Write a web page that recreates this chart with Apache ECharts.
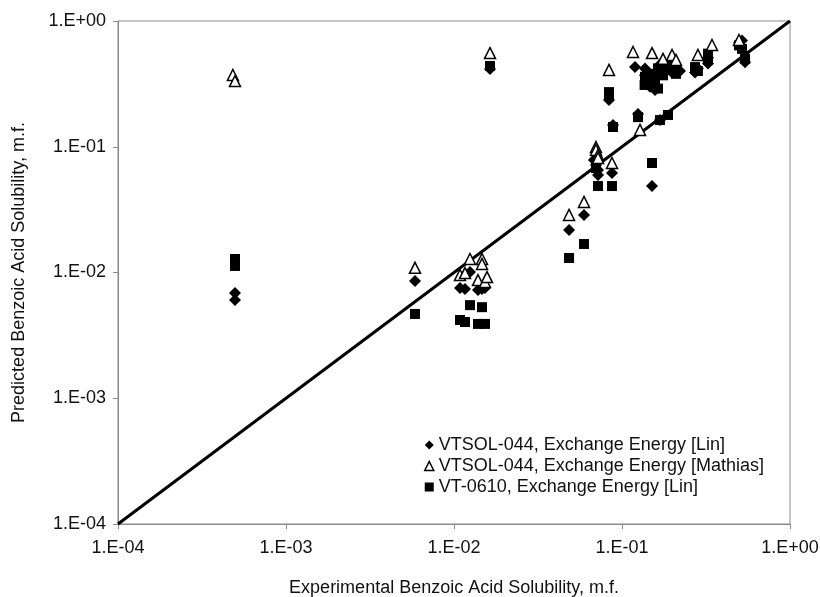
<!DOCTYPE html>
<html>
<head>
<meta charset="utf-8">
<script src="https://cdn.jsdelivr.net/npm/echarts@6/dist/echarts.min.js"></script>
<style>
  html, body { margin: 0; padding: 0; background: #fff; }
  #chart { width: 820px; height: 597px; }
</style>
</head>
<body>
<div id="chart"></div>
<script>
// series names (legend)
var seriesNames = [
  'VTSOL-044, Exchange Energy [Lin]',
  'VTSOL-044, Exchange Energy [Mathias]',
  'VT-0610, Exchange Energy [Lin]'
];

// [experimental, predicted] mole fractions
var linData = [
  [4.97e-4, 0.00687], [4.97e-4, 0.00604], [5.86e-3, 0.00856],
  [0.01086, 0.00753], [0.01163, 0.0074], [0.01245, 0.0101], [0.01389, 0.00726],
  [0.01468, 0.0074], [0.01529, 0.00753], [0.01638, 0.415],
  [0.0484, 0.0218], [0.0594, 0.0287], [0.0681, 0.0785], [0.07, 0.0716],
  [0.072, 0.0654], [0.072, 0.0596], [0.0872, 0.0618], [0.0837, 0.235],
  [0.0884, 0.149], [0.1245, 0.182], [0.1509, 0.0487], [0.1195, 0.431],
  [0.137, 0.37], [0.1468, 0.34], [0.1572, 0.31], [0.1638, 0.37], [0.1754, 0.40],
  [0.1879, 0.42], [0.1985, 0.39], [0.2097, 0.44], [0.1468, 0.30], [0.137, 0.42],
  [0.1684, 0.45], [0.2214, 0.40], [0.1572, 0.283], [0.1684, 0.163],
  [0.272, 0.39], [0.283, 0.42], [0.325, 0.51], [0.325, 0.46],
  [0.497, 0.67], [0.518, 0.70], [0.54, 0.47]
];

var mathiasData = [
  [4.83e-4, 0.372], [4.97e-4, 0.333], [5.86e-3, 0.0109],
  [0.01086, 0.00955], [0.01163, 0.0099], [0.01245, 0.0128], [0.01468, 0.0128],
  [0.01389, 0.0087], [0.01529, 0.0084], [0.01468, 0.0117], [0.01572, 0.0092],
  [0.01638, 0.556], [0.0484, 0.0287], [0.0594, 0.0364],
  [0.07, 0.0995], [0.07, 0.0942], [0.072, 0.086], [0.072, 0.0814],
  [0.0872, 0.0743], [0.0837, 0.408], [0.1163, 0.567], [0.128, 0.136],
  [0.1509, 0.556], [0.1985, 0.537], [0.1754, 0.50], [0.2097, 0.49],
  [0.283, 0.537], [0.3434, 0.644], [0.497, 0.706]
];

var vtData = [
  [4.97e-4, 0.0128], [4.97e-4, 0.01127], [5.86e-3, 0.00468],
  [0.01245, 0.0055], [0.01468, 0.0053], [0.01086, 0.00419], [0.01163, 0.00404],
  [0.01389, 0.0039], [0.01529, 0.0039], [0.01638, 0.439],
  [0.0484, 0.01304], [0.0594, 0.01685], [0.072, 0.0487], [0.0872, 0.0487],
  [0.07, 0.0678], [0.0837, 0.272], [0.0837, 0.255], [0.0884, 0.1436],
  [0.1245, 0.172], [0.1509, 0.0743], [0.1684, 0.163], [0.1879, 0.179],
  [0.137, 0.36], [0.1468, 0.38], [0.1572, 0.33], [0.1638, 0.42], [0.1754, 0.37],
  [0.1879, 0.45], [0.1985, 0.41], [0.2097, 0.38], [0.1363, 0.31], [0.1638, 0.29],
  [0.272, 0.43], [0.283, 0.40], [0.325, 0.55], [0.325, 0.49],
  [0.497, 0.64], [0.518, 0.60], [0.54, 0.50]
];

// y = x parity line
var parityLine = [[1e-4, 1e-4], [1, 1]];

var axisMin = 1e-4;
var axisMax = 1;

function expLabel(v) {
  var e = Math.round(Math.log10(v));
  var s = e < 0 ? '-' : '+';
  var a = Math.abs(e);
  return '1.E' + s + (a < 10 ? '0' + a : a);
}

var font = 'Liberation Sans, Arial, sans-serif';
var axisCommon = {
  type: 'log',
  logBase: 10,
  min: axisMin,
  max: axisMax,
  axisLine: { show: true, lineStyle: { color: '#8a8a8a', width: 1 } },
  axisTick: { show: true, inside: false, length: 5, lineStyle: { color: '#8a8a8a' } },
  splitLine: { show: false },
  minorTick: { show: false },
  axisLabel: { formatter: expLabel, color: '#111', fontSize: 18, fontFamily: font },
  nameTextStyle: { color: '#111', fontSize: 18, fontFamily: font }
};

var chart = echarts.init(document.getElementById('chart'));
chart.setOption({
  backgroundColor: '#fff',
  animation: false,
  grid: {
    left: 118, right: 30, top: 21, bottom: 73,
    outerBoundsMode: 'none',
    containLabel: false,
    show: true, borderColor: '#8a8a8a', borderWidth: 1
  },
  legend: {
    orient: 'vertical',
    left: 419,
    top: 431,
    itemWidth: 9,
    itemHeight: 9,
    itemGap: 3,
    textStyle: { color: '#111', fontSize: 18, fontFamily: font },
    data: [
      { name: seriesNames[0], itemStyle: { color: '#000' } },
      { name: seriesNames[1], itemStyle: { color: '#fff', borderColor: '#000', borderWidth: 1.5 } },
      { name: seriesNames[2], itemStyle: { color: '#000' } }
    ]
  },
  xAxis: Object.assign({}, axisCommon, {
    name: 'Experimental Benzoic Acid Solubility, m.f.',
    nameLocation: 'middle',
    nameGap: 55,
    axisLabel: Object.assign({}, axisCommon.axisLabel, { margin: 15 })
  }),
  yAxis: Object.assign({}, axisCommon, {
    name: 'Predicted Benzoic Acid Solubility, m.f.',
    nameLocation: 'middle',
    nameGap: 90,
    axisLabel: Object.assign({}, axisCommon.axisLabel, { margin: 12 })
  }),
  series: [
    {
      type: 'line',
      data: parityLine,
      symbol: 'none',
      silent: true,
      z: 1,
      lineStyle: { color: '#000', width: 3 }
    },
    {
      name: seriesNames[0],
      type: 'scatter',
      data: linData,
      symbol: 'diamond',
      symbolSize: 12,
      z: 3,
      itemStyle: { color: '#000', opacity: 1 }
    },
    {
      name: seriesNames[1],
      type: 'scatter',
      data: mathiasData,
      symbol: 'triangle',
      symbolSize: 11,
      z: 4,
      itemStyle: { color: '#fff', borderColor: '#000', borderWidth: 1.5, opacity: 1 }
    },
    {
      name: seriesNames[2],
      type: 'scatter',
      data: vtData,
      symbol: 'rect',
      symbolSize: 10,
      z: 3,
      itemStyle: { color: '#000', opacity: 1 }
    }
  ]
});
</script>
</body>
</html>
